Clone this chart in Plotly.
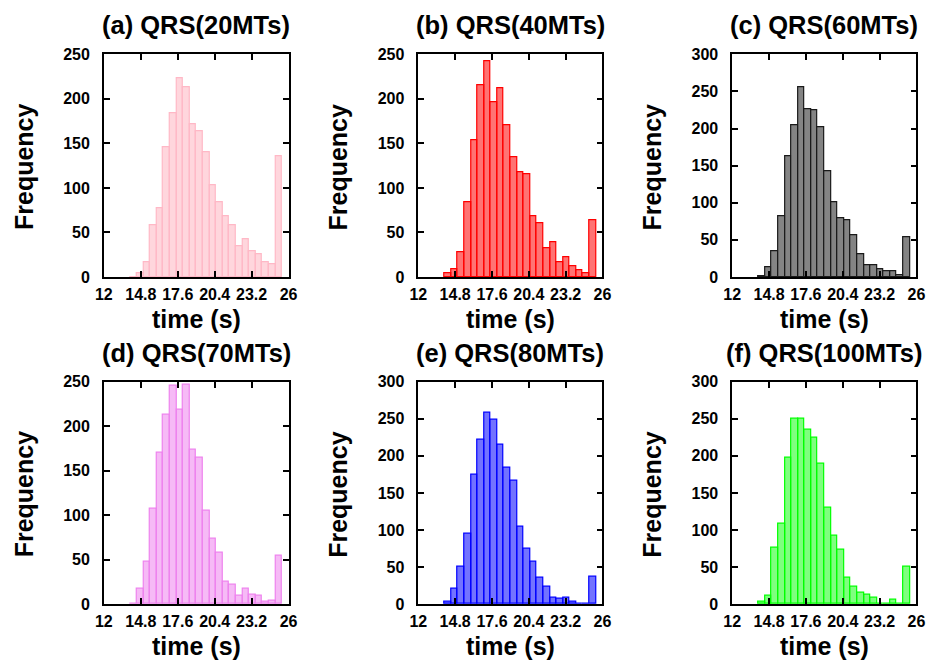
import plotly.graph_objects as go

# Bin centres (bin width 0.5 s) shared by all six histograms
bin_centers = [14.25, 14.75, 15.25, 15.75, 16.25, 16.75, 17.25, 17.75, 18.25, 18.75,
               19.25, 19.75, 20.25, 20.75, 21.25, 21.75, 22.25, 22.75, 23.25, 23.75,
               24.25, 24.75, 25.25]
bin_width = 0.5

# Counts per bin for each QRS configuration
counts_20 = [0, 4, 16, 58, 77, 146, 184, 223, 213, 171, 163, 140, 103, 84, 68, 58,
             35, 42, 29, 26, 16, 14, 135]
counts_40 = [4, 9, 28, 84, 154, 215, 242, 196, 212, 170, 134, 117, 115, 68, 60, 32,
             39, 17, 22, 12, 7, 4, 64]
counts_60 = [1, 13, 35, 82, 162, 205, 255, 226, 224, 201, 143, 101, 79, 76, 56, 30,
             16, 16, 11, 8, 8, 2, 53]
counts_70 = [0, 17, 48, 107, 170, 213, 245, 219, 247, 174, 165, 105, 73, 58, 25, 22,
             10, 17, 11, 9, 3, 4, 54]
counts_80 = [3, 21, 50, 95, 175, 222, 258, 249, 215, 184, 166, 105, 75, 57, 35, 24,
             8, 7, 8, 3, 1, 0, 37]
counts_100 = [3, 12, 76, 108, 198, 250, 250, 235, 224, 190, 130, 92, 74, 35, 24, 16,
              13, 8, 0, 0, 6, 0, 51]

titles = ["(a) QRS(20MTs)", "(b) QRS(40MTs)", "(c) QRS(60MTs)",
          "(d) QRS(70MTs)", "(e) QRS(80MTs)", "(f) QRS(100MTs)"]
all_counts = [counts_20, counts_40, counts_60, counts_70, counts_80, counts_100]
y_max = [250, 250, 300, 250, 300, 300]

x_ticks = [12, 14.8, 17.6, 20.4, 23.2, 26]
x_tick_text = ["12", "14.8", "17.6", "20.4", "23.2", "26"]

fills = ["rgba(255,192,203,0.65)", "rgba(255,0,0,0.55)", "rgba(110,110,110,0.85)",
         "rgba(238,130,238,0.55)", "rgba(0,0,255,0.55)", "rgba(0,255,0,0.5)"]
edges = ["#FFB8C6", "#FF0000", "#1a1a1a", "#EE82EE", "#0000FF", "#00FF00"]

W, H = 945, 668
col_px = [(96.7, 285.0), (417.3, 605.0), (737.3, 925.0)]
row_px = [(47.5, 276.0), (383.5, 611.7)]

FONT = "Liberation Sans, Arial, Helvetica, sans-serif"

fig = go.Figure()
annotations = []
for i in range(6):
    r, c = divmod(i, 3)
    x0, x1 = col_px[c]
    y0, y1 = row_px[r]
    n = i + 1
    xa = "x" if n == 1 else f"x{n}"
    ya = "y" if n == 1 else f"y{n}"
    fig.add_trace(go.Bar(
        x=bin_centers, y=all_counts[i], width=bin_width,
        marker=dict(color=fills[i], line=dict(color=edges[i], width=1.2)),
        xaxis=xa, yaxis=ya, showlegend=False,
    ))
    axis_common = dict(
        showline=True, linecolor="black", linewidth=1.6, mirror="ticks",
        ticks="inside", ticklen=6, tickwidth=1.6, tickcolor="black",
        showgrid=False, zeroline=False,
        tickfont=dict(family=FONT, size=16, color="black", weight="bold"),
    )
    fig.layout[f"xaxis{'' if n == 1 else n}"] = dict(
        axis_common, domain=[x0 / W, x1 / W], range=[12, 26],
        tickvals=x_ticks, ticktext=x_tick_text, anchor=ya,
        ticklabelstandoff=2,
    )
    fig.layout[f"yaxis{'' if n == 1 else n}"] = dict(
        axis_common, domain=[1 - y1 / H, 1 - y0 / H], range=[0, y_max[i]],
        tickvals=list(range(0, y_max[i] + 1, 50)), anchor=xa,
        ticklabelstandoff=9,
    )
    cx = (x0 + x1) / 2
    # panel title
    annotations.append(dict(
        text=titles[i], x=cx / W, y=1 - (y0 - 30) / H, xref="paper", yref="paper",
        xanchor="center", yanchor="middle", showarrow=False,
        font=dict(family=FONT, size=25.5, color="black", weight="bold"),
    ))
    # x-axis title
    annotations.append(dict(
        text="time (s)", x=cx / W, y=1 - (y1 + 43) / H, xref="paper", yref="paper",
        xanchor="center", yanchor="middle", showarrow=False,
        font=dict(family=FONT, size=25, color="black", weight="bold"),
    ))
    # y-axis title
    annotations.append(dict(
        text="Frequency", x=(x0 - 82) / W, y=1 - ((y0 + y1) / 2 + 1) / H,
        xref="paper", yref="paper", xanchor="center", yanchor="middle",
        showarrow=False, textangle=-90,
        font=dict(family=FONT, size=25, color="black", weight="bold"),
    ))

fig.update_layout(
    width=W, height=H, margin=dict(l=0, r=0, t=0, b=0),
    paper_bgcolor="white", plot_bgcolor="white",
    bargap=0, annotations=annotations,
)

fig.write_html("out.html")
